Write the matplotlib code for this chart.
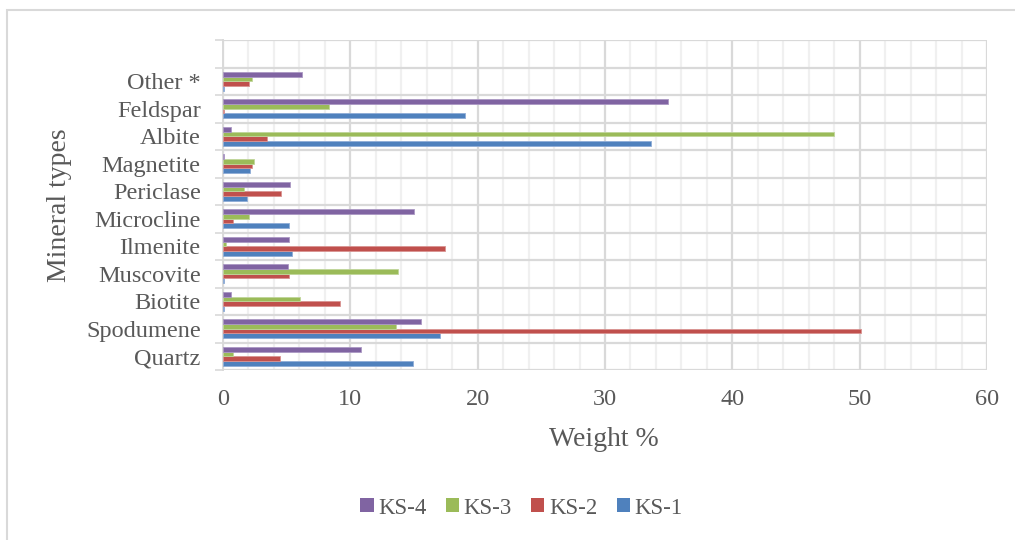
import matplotlib
matplotlib.use("Agg")
import matplotlib.pyplot as plt
import numpy as np
from matplotlib.patches import Patch, Rectangle
from matplotlib.ticker import MultipleLocator, FixedLocator, NullFormatter

categories = ['Quartz', 'Spodumene', 'Biotite', 'Muscovite', 'Ilmenite', 'Microcline',
              'Periclase', 'Magnetite', 'Albite', 'Feldspar', 'Other *']
ks1 = [14.95, 17.07, 0.1, 0.1, 5.45, 5.16, 1.86, 2.15, 33.6, 19.04, 0.05]
ks2 = [4.45, 50.09, 9.16, 5.16, 17.44, 0.76, 4.56, 2.25, 3.46, 0.1, 2.04]
ks3 = [0.76, 13.62, 6.05, 13.72, 0.26, 2.04, 1.65, 2.46, 48.0, 8.35, 2.25]
ks4 = [10.84, 15.55, 0.65, 5.08, 5.16, 15.03, 5.24, 0.1, 0.65, 34.93, 6.23]
series_names = ['KS-1', 'KS-2', 'KS-3', 'KS-4']
colors = ['#4F81BD', '#C0504D', '#9BBB59', '#8064A2']
edge_colors = ['#8FACD6', '#D99391', '#C0D69A', '#AB98C4']

plt.rcParams['font.family'] = ['Liberation Serif', 'DejaVu Serif']
TXT = '#595959'
GRID = '#D9D9D9'

fig = plt.figure(figsize=(10.15, 5.4), dpi=100)
fig.patches.append(Rectangle((7 / 1015, -0.1), 1.2, 1.1 - 10 / 540, transform=fig.transFigure,
                             fill=False, edgecolor=GRID, linewidth=1.5, zorder=0))

ax = fig.add_axes([223 / 1015, 1 - 370 / 540, (987 - 223) / 1015, (370 - 40) / 540])

y = np.arange(len(categories))
h = 0.17
for i, vals in enumerate([ks1, ks2, ks3, ks4]):
    ax.barh(y + (i - 1.5) * h, vals, height=h, color=colors[i],
            edgecolor=edge_colors[i], linewidth=0.6, zorder=3, label=series_names[i])

ax.set_xlim(0, 60)
ax.set_ylim(-0.5, len(categories) + 0.5)

ax.xaxis.set_major_locator(MultipleLocator(10))
ax.xaxis.set_minor_locator(MultipleLocator(2))
ax.grid(True, which='major', axis='x', color=GRID, linewidth=1.6, zorder=1)
ax.grid(True, which='minor', axis='x', color='#F0F0F0', linewidth=1.6, zorder=0.5)

bounds = np.arange(-0.5, len(categories) + 1.0, 1.0)
ax.yaxis.set_major_locator(FixedLocator(bounds))
ax.yaxis.set_major_formatter(NullFormatter())
ax.yaxis.set_minor_locator(FixedLocator(y))
ax.set_yticklabels(categories, minor=True)
ax.grid(True, which='major', axis='y', color=GRID, linewidth=1.6, zorder=1)

ax.tick_params(axis='y', which='major', length=6, width=1.2, color=GRID, direction='out')
ax.tick_params(axis='y', which='minor', length=0, pad=16, labelsize=17.5, labelcolor=TXT)
ax.tick_params(axis='x', which='both', length=0, pad=14, labelsize=17.5, labelcolor=TXT)

for s in ax.spines.values():
    s.set_color(GRID)
    s.set_linewidth(1.4)
ax.spines['top'].set_visible(False)
ax.spines['right'].set_visible(False)
ax.spines['bottom'].set_visible(False)

fig.text(60 / 1015, 1 - 205 / 540, 'Mineral types', rotation=90, ha='center', va='center',
         fontsize=20, color=TXT)
fig.text(604 / 1015, 1 - 440 / 540, 'Weight %', ha='center', va='center',
         fontsize=20, color=TXT)

handles = [Patch(facecolor=colors[i], edgecolor='none') for i in [3, 2, 1, 0]]
labels = [series_names[i] for i in [3, 2, 1, 0]]
fig.legend(handles, labels, loc='center', bbox_to_anchor=(521.5 / 1015, 1 - 508 / 540),
           ncol=4, frameon=False, fontsize=16.5, labelcolor=TXT,
           handlelength=0.57, handleheight=0.57, handletextpad=0.2, columnspacing=0.85,
           borderpad=0, borderaxespad=0)

fig.savefig('out.png', dpi=100)
